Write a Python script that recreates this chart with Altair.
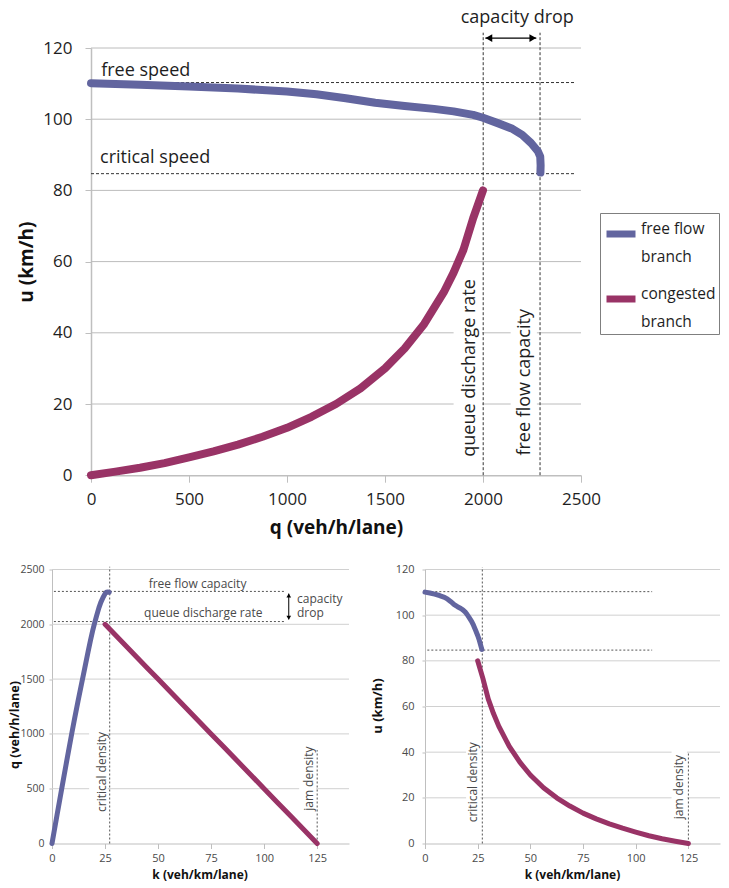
import altair as alt
import pandas as pd

# ------------------------------------------------------------------ data
branches = ["free flow branch", "congested branch"]
branch_colors = ["#62659f", "#993366"]

# free flow branch
ff_q = [0, 250, 500, 750, 1000, 1150, 1300, 1450, 1600, 1750, 1850, 1950, 2000,
        2075, 2150, 2200, 2245, 2280, 2292, 2294, 2293]
ff_u = [110.1, 109.7, 109.2, 108.6, 107.8, 107.0, 105.9, 104.6, 103.7, 102.9, 102.2,
        101.2, 100.4, 98.9, 97.3, 95.6, 93.3, 91.0, 89.5, 87.0, 85.0]
ff_k = [0, 2.28, 4.58, 6.91, 9.28, 10.75, 12.28, 13.86, 15.43, 17.01, 18.10, 19.27,
        19.92, 20.98, 22.10, 23.01, 24.06, 25.05, 25.61, 26.37, 26.98]

# congested branch
cg_q = [0, 125, 250, 375, 500, 625, 750, 875, 1000, 1125, 1250, 1375, 1500, 1600,
        1700, 1800, 1850, 1900, 1950, 2000]
cg_u = [0, 1.0, 2.1, 3.4, 5.0, 6.7, 8.6, 10.8, 13.3, 16.4, 20.0, 24.4, 30.0, 35.6,
        42.5, 51.4, 56.9, 63.3, 72.2, 80.0]
cg_k = [125, 118.75, 112.5, 106.25, 100, 93.75, 87.5, 81.25, 75, 68.75, 62.5, 56.25,
        50, 45, 40, 35, 32.5, 30, 27.5, 25]

# axis ticks
q_ticks = [0, 500, 1000, 1500, 2000, 2500]
u_ticks = [0, 20, 40, 60, 80, 100, 120]
k_ticks = [0, 25, 50, 75, 100, 125]

# reference levels
free_speed = 110.3
critical_speed = 84.7
queue_discharge = 2001
ff_capacity = 2291
bl_capacity = 2300
bl_queue = 2025
critical_density = 27.2
jam_density = 125

# ------------------------------------------------------------------ style
FONT = "Open Sans"
GRID = "#bcbcbc"
GRID2 = "#d0d0d0"
AXISC = "#bfbfbf"
LABEL = "#1e1e1e"
LABEL2 = "#4a4a4a"
TITLE = "#111111"
DASH = "#333333"
DASH2 = "#555555"

# ------------------------------------------------------------------ tables
rows = []
for i, (q, u, k) in enumerate(zip(ff_q, ff_u, ff_k)):
    rows.append({"branch": branches[0], "i": i, "q": q, "u": u, "k": k})
for i, (q, u, k) in enumerate(zip(cg_q, cg_u, cg_k)):
    rows.append({"branch": branches[1], "i": i, "q": q, "u": u, "k": k})
curves = pd.DataFrame(rows)

color_scale = alt.Scale(domain=branches, range=branch_colors)

# ================================================================== TOP (u vs q)
tx_scale = alt.Scale(domain=[0, 2500], nice=False, zero=False)
ty_scale = alt.Scale(domain=[0, 120], nice=False, zero=False)
tx_axis = alt.Axis(values=q_ticks, format="d", grid=False, domainColor=AXISC, domainWidth=1.5,
                   tickColor=AXISC, tickSize=7, labelFontSize=17, labelColor=LABEL,
                   labelPadding=9, labelFlush=False, labelOverlap=False,
                   title="q (veh/h/lane)", titleFontSize=19, titleFontWeight="bold",
                   titleColor=TITLE, titleBaseline="middle", titleY=52)
ty_axis = alt.Axis(values=u_ticks, format="d", grid=False, domainColor=AXISC, domainWidth=1.5,
                   tickColor=AXISC, tickSize=6, labelFontSize=17, labelColor=LABEL,
                   labelPadding=13, labelFlush=False, labelOverlap=False,
                   title="u (km/h)", titleFontSize=19, titleFontWeight="bold",
                   titleColor=TITLE, titleAngle=270, titleAlign="center",
                   titleBaseline="middle", titleX=-65, titleY=213.6)


def TX(f):
    return alt.X(f, type="quantitative", scale=tx_scale, axis=tx_axis)


def TY(f):
    return alt.Y(f, type="quantitative", scale=ty_scale, axis=ty_axis)


t_grid = alt.Chart(pd.DataFrame({"u": u_ticks[1:], "q0": 0, "q1": 2500})).mark_rule(
    color=GRID, strokeWidth=1).encode(x=TX("q0"), x2="q1", y=TY("u"))

t_boxes = alt.Chart(pd.DataFrame({"q0": [1850, 2141], "q1": [1995, 2275],
                                  "u0": [3, 3], "u1": [54, 48]})).mark_rect(
    color="white").encode(x=TX("q0"), x2="q1", y=TY("u0"), y2="u1")

t_hdash = alt.Chart(pd.DataFrame({"u": [free_speed, critical_speed], "q0": 0, "q1": 2473})).mark_rule(
    color=DASH, strokeWidth=1, strokeDash=[3, 2]).encode(x=TX("q0"), x2="q1", y=TY("u"))

t_vdash = alt.Chart(pd.DataFrame({"q": [queue_discharge, ff_capacity], "u0": 0, "u1": 124.3})).mark_rule(
    color=DASH, strokeWidth=1, strokeDash=[3, 2]).encode(x=TX("q"), y=TY("u0"), y2="u1")

t_lines = alt.Chart(curves).mark_line(strokeWidth=8, strokeCap="round", strokeJoin="round").encode(
    x=TX("q"), y=TY("u"), order="i:Q",
    color=alt.Color("branch:N", scale=color_scale, legend=alt.Legend(
        title=None, orient="none", legendX=509, legendY=165, direction="vertical",
        labelFont=FONT, labelFontSize=15.5, labelColor=LABEL,
        labelExpr="datum.label == 'free flow branch' ? ['free flow', 'branch'] : ['congested', 'branch']",
        labelBaseline="alphabetic", labelOffset=2, labelLimit=300,
        symbolType="stroke", symbolSize=841, symbolStrokeWidth=7,
        strokeColor="#7f7f7f", fillColor="white", padding=3, rowPadding=15)))

t_text_left = alt.Chart(pd.DataFrame({"q": [52, 46], "u": [112.0, 87.7],
                                      "t": ["free speed", "critical speed"]})).mark_text(
    align="left", baseline="alphabetic", fontSize=18, color=LABEL).encode(
    x=TX("q"), y=TY("u"), text="t:N")

t_text_cap = alt.Chart(pd.DataFrame({"q": [2175], "u": [127.1], "t": ["capacity drop"]})).mark_text(
    align="center", baseline="alphabetic", fontSize=18, color=LABEL).encode(
    x=TX("q"), y=TY("u"), text="t:N")

t_text_rot = alt.Chart(pd.DataFrame({"q": [1936, 2216], "u": [5.2, 5.5],
                                     "t": ["queue discharge rate", "free flow capacity"]})).mark_text(
    align="left", baseline="middle", angle=270, fontSize=18, color=LABEL).encode(
    x=TX("q"), y=TY("u"), text="t:N")

t_arrow = alt.Chart(pd.DataFrame({"q0": [2012], "q1": [2272], "u": [122.8]})).mark_rule(
    color="black", strokeWidth=1.3).encode(x=TX("q0"), x2="q1", y=TY("u"))
t_heads = alt.Chart(pd.DataFrame({"q": [2030, 2254], "u": [122.8, 122.8],
                                  "s": ["triangle-left", "triangle-right"]})).mark_point(
    filled=True, size=60, color="black", opacity=1).encode(
    x=TX("q"), y=TY("u"), shape=alt.Shape("s:N", scale=None))

top = alt.layer(t_grid, t_boxes, t_hdash, t_vdash, t_lines, t_text_left, t_text_cap,
                t_text_rot, t_arrow, t_heads).properties(width=490, height=427.2)

# ================================================================== BOTTOM LEFT (q vs k)
bx_scale = alt.Scale(domain=[0, 140], range=[-39, 258], nice=False, zero=False)
by_scale = alt.Scale(domain=[0, 2500], nice=False, zero=False)
bx_axis = alt.Axis(values=k_ticks, format="d", grid=False, domainColor=AXISC, tickColor=AXISC,
                   tickSize=5, labelFontSize=11, labelColor=LABEL2, labelPadding=4,
                   labelFlush=False, labelOverlap=False, title="k (veh/km/lane)",
                   titleFontSize=12, titleFontWeight="bold", titleColor=TITLE,
                   titleBaseline="middle", titleX=108.6, titleY=31)
by_axis = alt.Axis(values=q_ticks, format="d", grid=False, offset=39, domainColor=AXISC,
                   tickColor=AXISC, tickSize=3, labelFontSize=10.5, labelColor=LABEL2,
                   labelPadding=5, labelFlush=False, labelOverlap=False,
                   title="q (veh/h/lane)", titleFontSize=12.5, titleFontWeight="bold",
                   titleColor=TITLE, titleAngle=270, titleAlign="center",
                   titleBaseline="middle", titleX=-38, titleY=155)


def BX(f):
    return alt.X(f, type="quantitative", scale=bx_scale, axis=bx_axis)


def BY(f):
    return alt.Y(f, type="quantitative", scale=by_scale, axis=by_axis)


l_grid = alt.Chart(pd.DataFrame({"q": q_ticks[1:], "k0": 0, "k1": 140})).mark_rule(
    color=GRID2, strokeWidth=1).encode(x=BX("k0"), x2="k1", y=BY("q"))
l_boxes = alt.Chart(pd.DataFrame({"k0": [17.5, 116.5], "k1": [26.3, 124.5],
                                  "q0": [250, 230], "q1": [1040, 880]})).mark_rect(
    color="white").encode(x=BX("k0"), x2="k1", y=BY("q0"), y2="q1")
l_hdash = alt.Chart(pd.DataFrame({"q": [bl_capacity, bl_queue], "k0": 0.9, "k1": 109.5})).mark_rule(
    color=DASH2, strokeWidth=1, strokeDash=[2, 2]).encode(x=BX("k0"), x2="k1", y=BY("q"))
l_vdash = alt.Chart(pd.DataFrame({"k": [critical_density, jam_density], "q0": [0, 0],
                                  "q1": [2525, 852]})).mark_rule(
    color=DASH2, strokeWidth=1, strokeDash=[2, 2]).encode(x=BX("k"), y=BY("q0"), y2="q1")
l_lines = alt.Chart(curves).mark_line(strokeWidth=5, strokeCap="round", strokeJoin="round").encode(
    x=BX("k"), y=BY("q"), order="i:Q",
    color=alt.Color("branch:N", scale=color_scale, legend=None))
l_text = alt.Chart(pd.DataFrame({"k": [68.6, 71.3], "q": [2369, 2103],
                                 "t": ["free flow capacity", "queue discharge rate"]})).mark_text(
    align="center", baseline="middle", fontSize=12, color=LABEL2).encode(
    x=BX("k"), y=BY("q"), text="t:N")
l_text2 = alt.Chart(pd.DataFrame({"k": [115.5], "q": [2193]})).mark_text(
    align="left", baseline="alphabetic", fontSize=12, lineHeight=13.4, color=LABEL2,
    text=["capacity", "drop"]).encode(x=BX("k"), y=BY("q"))
l_text_rot = alt.Chart(pd.DataFrame({"k": [23.6, 121.3], "q": [653, 592],
                                     "t": ["critical density", "jam density"]})).mark_text(
    align="center", baseline="middle", angle=270, fontSize=12, color=LABEL2).encode(
    x=BX("k"), y=BY("q"), text="t:N")
l_arrow = alt.Chart(pd.DataFrame({"k": [111.6], "q0": [2045], "q1": [2280]})).mark_rule(
    color="black", strokeWidth=1).encode(x=BX("k"), y=BY("q0"), y2="q1")
l_heads = alt.Chart(pd.DataFrame({"k": [111.6, 111.6], "q": [2262, 2060],
                                  "s": ["triangle-up", "triangle-down"]})).mark_point(
    filled=True, size=22, color="black", opacity=1).encode(
    x=BX("k"), y=BY("q"), shape=alt.Shape("s:N", scale=None))

bl = alt.layer(l_grid, l_boxes, l_hdash, l_vdash, l_lines, l_text, l_text2, l_text_rot,
               l_arrow, l_heads).properties(width=258, height=274)

# ================================================================== BOTTOM RIGHT (u vs k)
rx_scale = alt.Scale(domain=[0, 140], nice=False, zero=False)
ry_scale = alt.Scale(domain=[0, 120], nice=False, zero=False)
rx_axis = alt.Axis(values=k_ticks, format="d", grid=False, domainColor=AXISC, tickColor=AXISC,
                   tickSize=5, labelFontSize=11, labelColor=LABEL2, labelPadding=4,
                   labelFlush=False, labelOverlap=False, title="k (veh/km/lane)",
                   titleFontSize=12, titleFontWeight="bold", titleColor=TITLE,
                   titleBaseline="middle", titleX=147, titleY=31)
ry_axis = alt.Axis(values=u_ticks, format="d", grid=False, domainColor=AXISC, tickColor=AXISC,
                   tickSize=3, labelFontSize=11, labelColor=LABEL2, labelPadding=8,
                   labelFlush=False, labelOverlap=False, title="u (km/h)",
                   titleFontSize=13, titleFontWeight="bold", titleColor=TITLE,
                   titleAngle=270, titleAlign="center", titleBaseline="middle",
                   titleX=-47.7, titleY=136)


def RX(f):
    return alt.X(f, type="quantitative", scale=rx_scale, axis=rx_axis)


def RY(f):
    return alt.Y(f, type="quantitative", scale=ry_scale, axis=ry_axis)


r_grid = alt.Chart(pd.DataFrame({"u": u_ticks[1:], "k0": 0, "k1": 140})).mark_rule(
    color=GRID2, strokeWidth=1).encode(x=RX("k0"), x2="k1", y=RY("u"))
r_boxes = alt.Chart(pd.DataFrame({"k0": [19.5, 117.0], "k1": [26.3, 124.3],
                                  "u0": [8, 9], "u1": [45, 41]})).mark_rect(
    color="white").encode(x=RX("k0"), x2="k1", y=RY("u0"), y2="u1")
r_hdash = alt.Chart(pd.DataFrame({"u": [free_speed, critical_speed], "k0": 1.1, "k1": 107.8})).mark_rule(
    color=DASH2, strokeWidth=1, strokeDash=[2, 2]).encode(x=RX("k0"), x2="k1", y=RY("u"))
r_vdash = alt.Chart(pd.DataFrame({"k": [critical_density, jam_density], "u0": [0, 0],
                                  "u1": [121, 40]})).mark_rule(
    color=DASH2, strokeWidth=1, strokeDash=[2, 2]).encode(x=RX("k"), y=RY("u0"), y2="u1")
r_lines = alt.Chart(curves).mark_line(strokeWidth=5, strokeCap="round", strokeJoin="round").encode(
    x=RX("k"), y=RY("u"), order="i:Q",
    color=alt.Color("branch:N", scale=color_scale, legend=None))
r_text_rot = alt.Chart(pd.DataFrame({"k": [22.8, 120.5], "u": [26.8, 24.7],
                                     "t": ["critical density", "jam density"]})).mark_text(
    align="center", baseline="middle", angle=270, fontSize=12, color=LABEL2).encode(
    x=RX("k"), y=RY("u"), text="t:N")

br = alt.layer(r_grid, r_boxes, r_hdash, r_vdash, r_lines, r_text_rot).properties(
    width=295, height=274)

# ================================================================== assemble
bottom = alt.hconcat(bl, br, spacing=76, bounds="flush")
chart = alt.vconcat(top, bottom, spacing=93.5, bounds="flush").resolve_scale(
    color="independent").resolve_legend(color="independent").properties(
    padding=0, background="white").configure(
    font=FONT, style={"guide-label": {"lineHeight": 28}}).configure_view(stroke=None)

chart.save("out.html", embed_options={"renderer": "svg", "actions": False})
